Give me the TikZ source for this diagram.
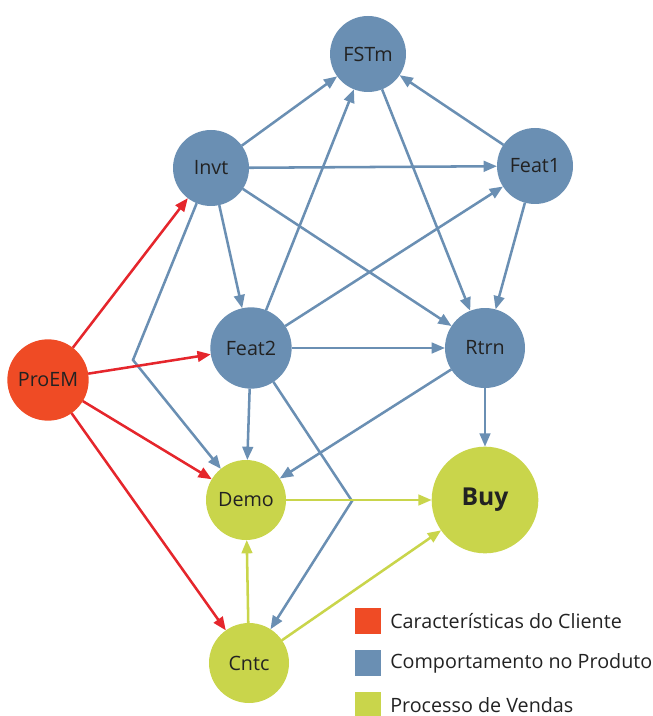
\documentclass[tikz,border=0pt]{standalone}
\usepackage{fontspec}
\setmainfont{Open Sans}
\usetikzlibrary{arrows.meta}
\definecolor{nblue}{HTML}{6A8FB3}
\definecolor{nred}{HTML}{EF4B25}
\definecolor{lred}{HTML}{E5262C}
\definecolor{ngreen}{HTML}{C9D54B}
\definecolor{txt}{HTML}{222222}
\begin{document}
\begin{tikzpicture}[x=0.75pt,y=-0.75pt,
  nd/.style={circle,inner sep=0pt,outer sep=0pt,text=txt,font=\fontsize{14.8}{16}\selectfont},
  bnode/.style={nd,fill=nblue},
  rnode/.style={nd,fill=nred},
  gnode/.style={nd,fill=ngreen},
  edge/.style={line width=1.9pt,-{Triangle[length=10pt,width=8pt]}},
  bedge/.style={edge,draw=nblue},
  redge/.style={edge,draw=lred},
  gedge/.style={edge,draw=ngreen},
  legbox/.style={minimum width=19.5pt,minimum height=19pt,inner sep=0pt},
  legtxt/.style={anchor=west,inner sep=0pt,text=txt,font=\fontsize{14.8}{16}\selectfont}]
\useasboundingbox (0,0) rectangle (652,716);

\node[bnode,minimum size=57pt] (FSTm) at (368,54) {FSTm};
\node[bnode,minimum size=57pt] (Invt) at (211,168) {Invt};
\node[bnode,minimum size=57pt] (Feat1) at (535,166) {Feat1};
\node[bnode,minimum size=61pt] (Feat2) at (251,348) {Feat2};
\node[bnode,minimum size=60pt] (Rtrn) at (485,348) {Rtrn};
\node[rnode,minimum size=61pt] (ProEM) at (48,380) {ProEM};
\node[gnode,minimum size=60pt] (Demo) at (246,500) {Demo};
\node[gnode,minimum size=80pt,font=\fontsize{18.5}{20}\selectfont\bfseries] (Buy) at (485,500) {Buy};
\node[gnode,minimum size=60pt] (Cntc) at (249,663) {Cntc};

\coordinate (b1) at (133,360);
\coordinate (b2) at (352,501);

% blue edges
\draw[bedge] (Invt) -- (FSTm);
\draw[bedge] (Feat1) -- (FSTm);
\draw[bedge] (Invt) -- (Feat1);
\draw[bedge] (Invt) -- (Feat2);
\draw[bedge] (Invt) -- (Rtrn);
\draw[bedge] (Invt) -- (b1) -- (Demo);
\draw[bedge] (Feat2) -- (FSTm);
\draw[bedge] (Feat2) -- (Feat1);
\draw[bedge] (Feat2) -- (Rtrn);
\draw[bedge] (Feat2) -- (Demo);
\draw[bedge] (Feat2) -- (b2) -- (Cntc);
\draw[bedge] (FSTm) -- (Rtrn);
\draw[bedge] (Feat1) -- (Rtrn);
\draw[bedge] (Rtrn) -- (Buy);
\draw[bedge] (Rtrn) -- (Demo);

% red edges
\draw[redge] (ProEM) -- (Invt);
\draw[redge] (ProEM) -- (Feat2);
\draw[redge] (ProEM) -- (Demo);
\draw[redge] (ProEM) -- (Cntc);

% green edges
\draw[gedge] (Demo) -- (Buy);
\draw[gedge] (Cntc) -- (Demo);
\draw[gedge] (Cntc) -- (Buy);

% legend
\node[legbox,fill=nred] (L1) at (368,621) {};
\node[legbox,fill=nblue] (L2) at (368,663) {};
\node[legbox,fill=ngreen] (L3) at (368,705) {};
\node[legtxt] (T1) at (390,621) {Características do Cliente};
\node[legtxt] (T2) at (390,663) {Comportamento no Produto};
\node[legtxt] (T3) at (390,705) {Processo de Vendas};
\end{tikzpicture}
\end{document}
